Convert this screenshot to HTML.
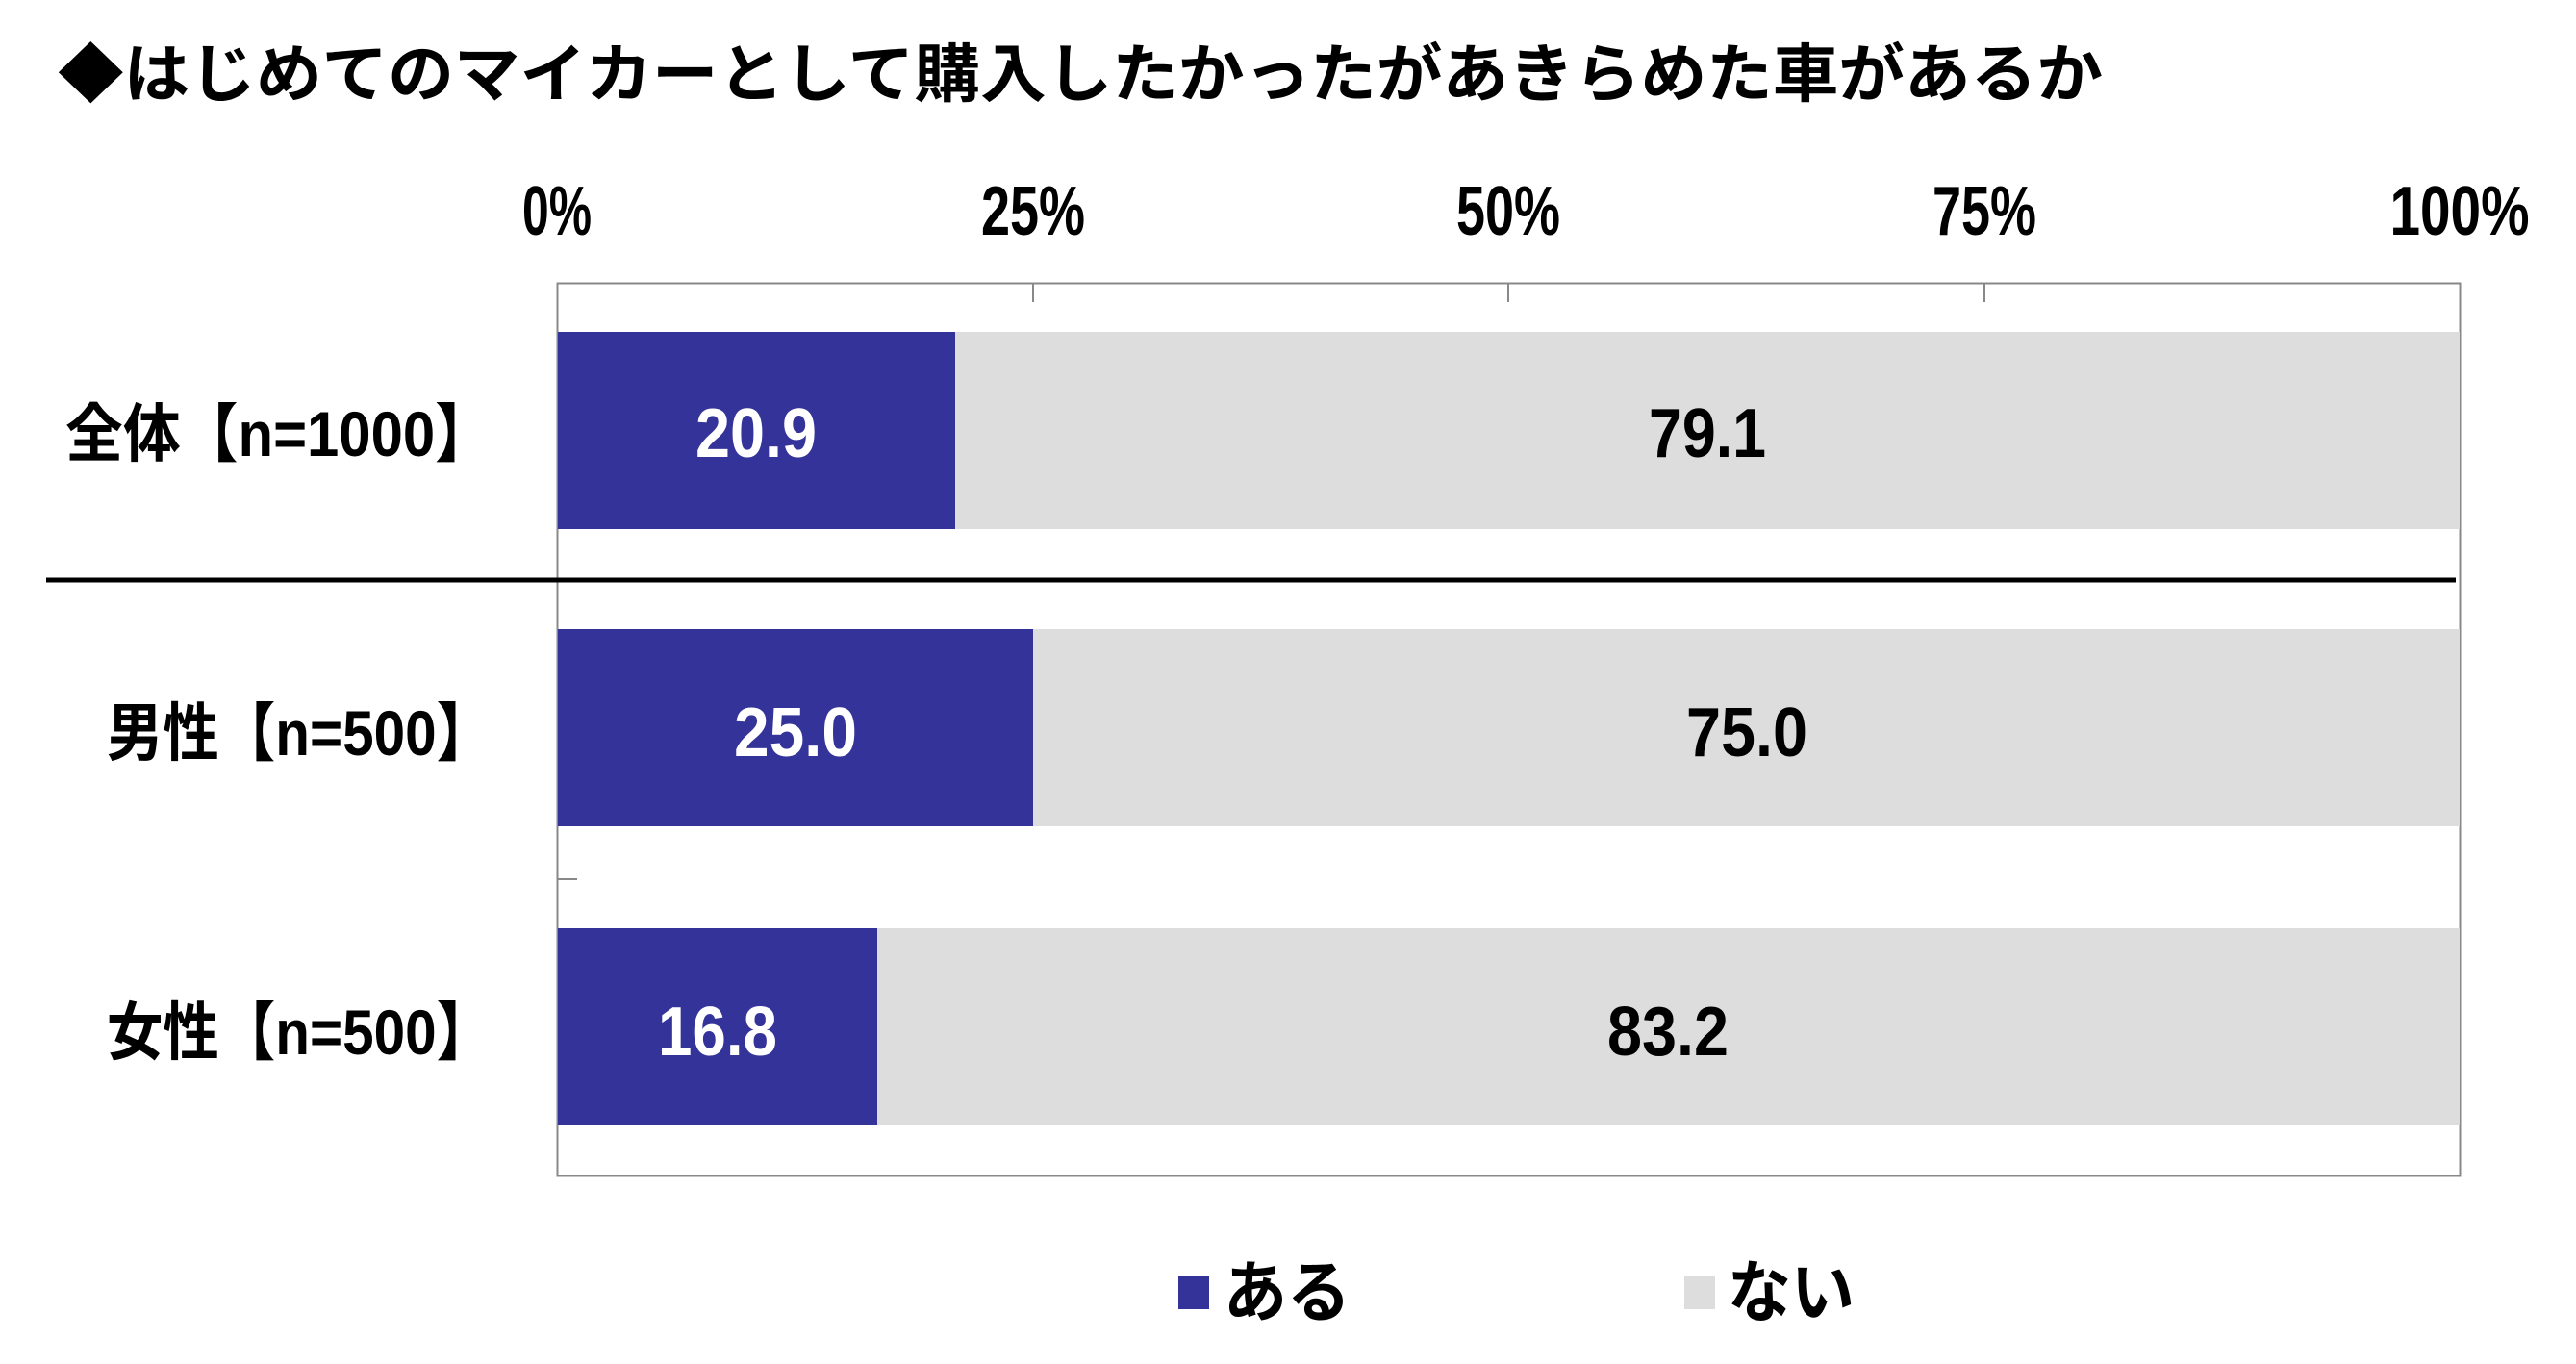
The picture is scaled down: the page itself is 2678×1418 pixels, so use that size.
<!DOCTYPE html>
<html><head><meta charset="utf-8"><style>
html,body{margin:0;padding:0;background:#fff;}
svg{display:block;}
text{font-family:"Liberation Sans","Noto Sans CJK JP",sans-serif;font-weight:bold;}
</style></head><body>
<svg width="2678" height="1418" viewBox="0 0 2678 1418" xmlns="http://www.w3.org/2000/svg">
<rect width="2678" height="1418" fill="#fff"/>
<text x="60" y="100" font-size="66" textLength="2126" lengthAdjust="spacingAndGlyphs" fill="#000">◆はじめてのマイカーとして購入したかったがあきらめた車があるか</text>
<g font-size="72" fill="#000" text-anchor="middle">
<text x="579" y="244" textLength="72" lengthAdjust="spacingAndGlyphs">0%</text>
<text x="1074" y="244" textLength="108" lengthAdjust="spacingAndGlyphs">25%</text>
<text x="1568" y="244" textLength="108" lengthAdjust="spacingAndGlyphs">50%</text>
<text x="2063" y="244" textLength="108" lengthAdjust="spacingAndGlyphs">75%</text>
<text x="2557" y="244" textLength="145" lengthAdjust="spacingAndGlyphs">100%</text>
</g>
<rect x="579.5" y="294.5" width="1978" height="928" fill="none" stroke="#888" stroke-width="2"/>
<g stroke="#888" stroke-width="2">
<line x1="1074" y1="294" x2="1074" y2="314"/>
<line x1="1568" y1="294" x2="1568" y2="314"/>
<line x1="2063" y1="294" x2="2063" y2="314"/>
<line x1="579" y1="914" x2="600" y2="914"/>
</g>
<rect x="580" y="345" width="413" height="205" fill="#333399"/>
<rect x="993" y="345" width="1564" height="205" fill="#dddddd"/>
<rect x="580" y="654" width="494" height="205" fill="#333399"/>
<rect x="1074" y="654" width="1483" height="205" fill="#dddddd"/>
<rect x="580" y="965" width="332" height="205" fill="#333399"/>
<rect x="912" y="965" width="1645" height="205" fill="#dddddd"/>
<line x1="48" y1="603" x2="2553" y2="603" stroke="#000" stroke-width="5"/>
<g font-size="72" text-anchor="middle">
<text x="786" y="475" fill="#fff" textLength="126" lengthAdjust="spacingAndGlyphs">20.9</text>
<text x="1775" y="475" fill="#000" textLength="122" lengthAdjust="spacingAndGlyphs">79.1</text>
<text x="827" y="786" fill="#fff" textLength="128" lengthAdjust="spacingAndGlyphs">25.0</text>
<text x="1816" y="786" fill="#000" textLength="126" lengthAdjust="spacingAndGlyphs">75.0</text>
<text x="746" y="1097" fill="#fff" textLength="124" lengthAdjust="spacingAndGlyphs">16.8</text>
<text x="1734" y="1097" fill="#000" textLength="126" lengthAdjust="spacingAndGlyphs">83.2</text>
</g>
<g font-size="66" fill="#000">
<text x="68" y="474" textLength="444" lengthAdjust="spacingAndGlyphs">全体【n=1000】</text>
<text x="111" y="785" textLength="401" lengthAdjust="spacingAndGlyphs">男性【n=500】</text>
<text x="111" y="1096" textLength="401" lengthAdjust="spacingAndGlyphs">女性【n=500】</text>
</g>
<rect x="1225" y="1327" width="32" height="34" fill="#333399"/>
<text x="1272" y="1368" font-size="70" fill="#000" textLength="132" lengthAdjust="spacingAndGlyphs">ある</text>
<rect x="1751" y="1327" width="32" height="34" fill="#dddddd"/>
<text x="1796" y="1368" font-size="70" fill="#000" textLength="132" lengthAdjust="spacingAndGlyphs">ない</text>
</svg>
</body></html>
